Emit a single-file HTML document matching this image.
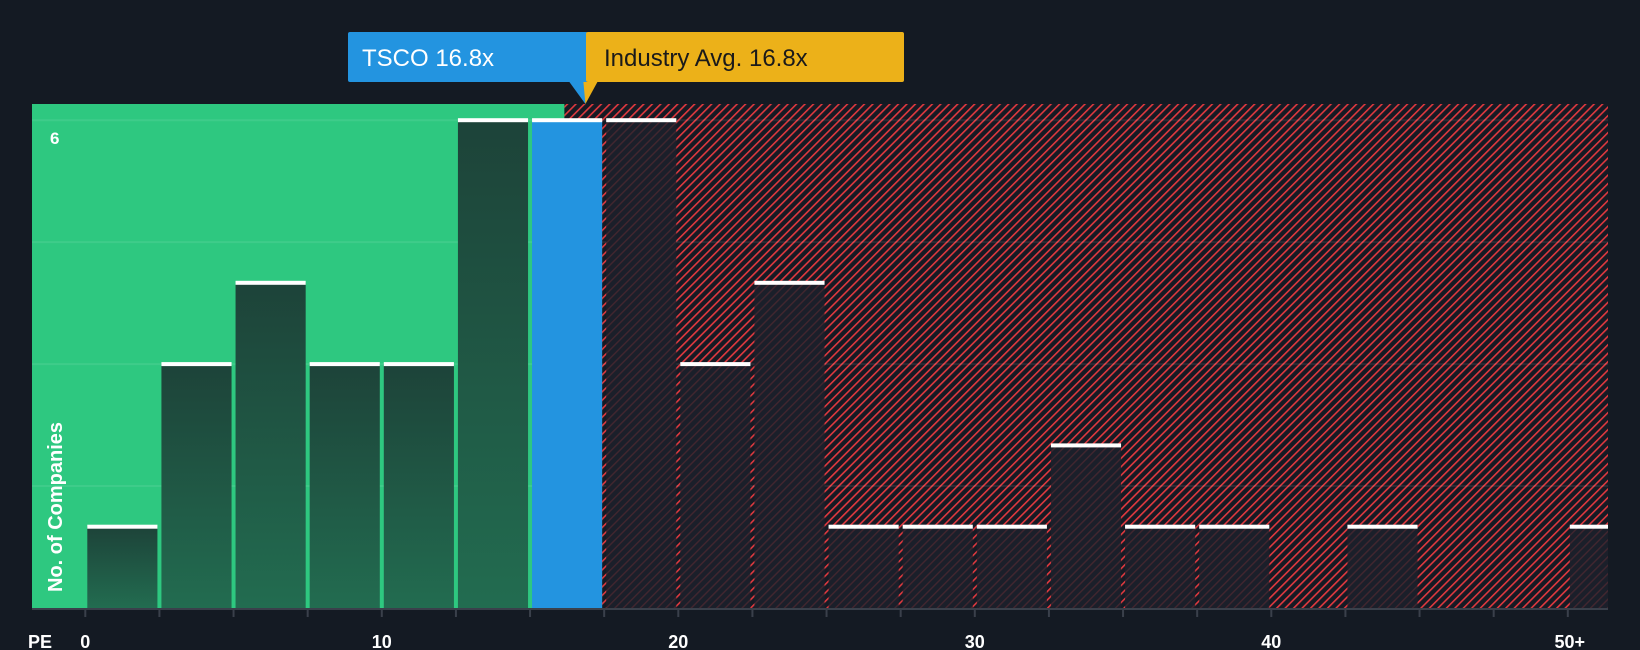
<!DOCTYPE html>
<html><head><meta charset="utf-8"><style>
html,body{margin:0;padding:0;background:#141a23;}
svg{display:block;font-family:"Liberation Sans",sans-serif;}
</style></head><body>
<svg id="chart" width="1640" height="650" viewBox="0 0 1640 650" xmlns="http://www.w3.org/2000/svg">
<defs>
<pattern id="hatch" patternUnits="userSpaceOnUse" width="6" height="6" patternTransform="rotate(45)">
<rect width="6" height="6" fill="#161a24"/>
<rect x="0" y="0" width="1.6" height="6" fill="#e0393f"/>
</pattern>
<pattern id="hatchDim" patternUnits="userSpaceOnUse" width="6" height="6" patternTransform="rotate(45)">
<rect width="6" height="6" fill="#1b1f2a"/>
<rect x="0" y="0" width="1.4" height="6" fill="#42262f"/>
</pattern>
<linearGradient id="gbar" x1="0" y1="0" x2="0" y2="1">
<stop offset="0" stop-color="#1d4339"/><stop offset="1" stop-color="#226c50"/>
</linearGradient>
</defs>
<g id="layer"></g>
</svg>
<script>
const binStarts=[0,2.5,5,7.5,10,12.5,15,17.5,20,22.5,25,27.5,30,32.5,35,37.5,40,42.5,45,47.5,50];
const counts=[1,3,4,3,3,6,6,6,3,4,1,1,1,2,1,1,0,1,0,0,1];
const xTicks=[0,10,20,30,40,50];
const xTickLabels=["0","10","20","30","40","50+"];
const companyValue=16.8;
const industryAvg=16.8;
const companyLabel="TSCO 16.8x";
const industryLabel="Industry Avg. 16.8x";

const NS="http://www.w3.org/2000/svg";
const L=document.getElementById('layer');
const plotL=32,plotR=1608,plotT=104,base=608;
const x=v=>85.3+v*29.65;
const y=c=>base-c*81.3;
function mk(t,a,p){const e=document.createElementNS(NS,t);for(const k in a)e.setAttribute(k,a[k]);(p||L).appendChild(e);return e;}

const greenEnd=x(industryAvg)-19;
const g1=mk('rect',{x:plotL,y:plotT,width:greenEnd-plotL,height:base-plotT,fill:'#2ec880'});


const h1=mk('rect',{x:greenEnd,y:plotT,width:plotR-greenEnd,height:base-plotT,fill:'url(#hatch)'});



[1.5,3,4.5,6].forEach(v=>{
  const gl=mk('line',{x1:plotL,x2:plotR,y1:y(v),y2:y(v),stroke:'rgba(255,255,255,0.08)','stroke-width':2});
  
  
});

binStarts.forEach((s,i)=>{
  const c=counts[i];
  const x0=x(s)+2, x1=Math.min(x(s+2.5)-2,plotR);
  const w=x1-x0;
  const isCo=companyValue>=s&&companyValue<s+2.5;
  const under=s+2.5<=industryAvg-1;
  let fill=isCo?'#2394e0':(under?'url(#gbar)':'url(#hatchDim)');
  if(c>0){
    const b=mk('rect',{x:x0,y:y(c),width:w,height:base-y(c),fill:fill});
    
    
    const cap=mk('rect',{x:x0,y:y(c)-2,width:w,height:4,fill:'#ffffff'});
    
    
  }
});

const ax=mk('line',{x1:plotL,x2:plotR,y1:base+1,y2:base+1,stroke:'#3a404b','stroke-width':2});


binStarts.forEach(s=>{
  const t=mk('line',{x1:x(s),x2:x(s),y1:base,y2:base+9,stroke:'#3a404b','stroke-width':2});
  
  
});
xTicks.forEach((v,i)=>{
  const t=mk('text',{x:x(v)+(i==xTicks.length-1?2:0),y:648,'text-anchor':'middle',fill:'#fff','font-size':18,'font-weight':'bold'});
  t.textContent=xTickLabels[i];
  
  
});
const pe=mk('text',{x:28,y:648,fill:'#fff','font-size':18,'font-weight':'bold'});pe.textContent='PE';


const six=mk('text',{x:50,y:144,fill:'#fff','font-size':17,'font-weight':'bold'});six.textContent='6';


const yt=mk('text',{x:0,y:0,fill:'#fff','font-size':20,'font-weight':'bold',transform:'translate(62,592) rotate(-90)'});yt.textContent='No. of Companies';



const px=x(companyValue);
const tb=mk('rect',{x:348,y:32,width:240,height:50,rx:2,fill:'#2394e0'});


const tp=mk('polygon',{points:`${px-14},82 ${px+2},82 ${px+2},104`,fill:'#2394e0'});


const tt=mk('text',{x:362,y:66,fill:'#fff','font-size':24});tt.textContent=companyLabel;


const ib=mk('rect',{x:586,y:32,width:318,height:50,rx:2,fill:'#ecb119'});


const ip=mk('polygon',{points:`${px},82 ${px+14},82 ${px+2},104`,fill:'#ecb119'});


const it=mk('text',{x:604,y:66,fill:'#1a1a1a','font-size':24});it.textContent=industryLabel;


</script>
</body></html>
